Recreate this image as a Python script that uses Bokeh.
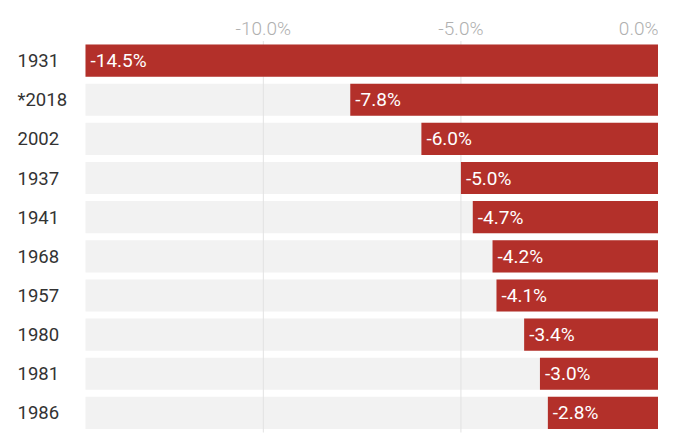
from bokeh.plotting import figure
from bokeh.models import ColumnDataSource, Range1d
from bokeh.core.properties import value
from bokeh.embed import file_html
from bokeh.resources import INLINE

years = ["1931", "*2018", "2002", "1937", "1941", "1968", "1957", "1980", "1981", "1986"]
changes = [-14.5, -7.8, -6.0, -5.0, -4.7, -4.2, -4.1, -3.4, -3.0, -2.8]
labels = ["%.1f%%" % v for v in changes]
x_min = -14.5
ticks = [-10.0, -5.0, 0.0]
tick_labels = ["%.1f%%" % t for t in ticks]

n = len(years)
rows = list(range(n))  # 0 = top row
src = ColumnDataSource(dict(row=rows, year=years, change=changes, label=labels,
                            lo=[x_min] * n, zero=[0.0] * n))

# layout (pixels)
W, H = 658, 437
left_px = 85
rows_top, rows_bottom = 40.5, 432.0
pitch = (rows_bottom - rows_top) / n
x_start = x_min * W / (W - left_px)

p = figure(width=W, height=H, output_backend="svg", toolbar_location=None,
           x_axis_type=None, y_axis_type=None,
           x_range=Range1d(x_start, 0),
           y_range=Range1d(n - 0.5 + (H - rows_bottom) / pitch, -0.5 - rows_top / pitch),
           min_border=0, min_border_left=0, min_border_right=0,
           min_border_top=0, min_border_bottom=0)
p.outline_line_color = None
p.background_fill_color = "white"
p.border_fill_color = "white"

# background track bars
p.hbar(y="row", left="lo", right="zero", height=0.82, source=src,
       fill_color="#f2f2f2", line_color=None, level="image")
# vertical grid lines at ticks
grid = ColumnDataSource(dict(x=ticks, y0=[-0.5] * len(ticks), y1=[n - 0.5] * len(ticks)))
p.segment(x0="x", y0="y0", x1="x", y1="y1", source=grid,
          line_color="#e2e2e2", line_width=1, level="underlay")
# value bars
p.hbar(y="row", left="change", right="zero", height=0.82, source=src,
       fill_color="#b3302a", line_color=None)

p.text(x="change", y="row", text="label", source=src, x_offset=5,
       text_align="left", text_baseline="middle", text_color="white",
       text_font=value("Roboto"), text_font_size="19px")
p.text(x="lo", y="row", text="year", source=src, x_offset=-68,
       text_align="left", text_baseline="middle", text_color="#333333",
       text_font=value("Roboto"), text_font_size="18.5px")

tk = ColumnDataSource(dict(x=ticks, y=[-0.5] * len(ticks), t=tick_labels,
                           align=["center"] * (len(ticks) - 1) + ["right"]))
p.text(x="x", y="y", text="t", source=tk, y_offset=-13, text_align="align",
       text_baseline="middle", text_color="#b0b0b0",
       text_font=value("Roboto Light"), text_font_size="19px")

open("out.html", "w").write(file_html(p, INLINE))
